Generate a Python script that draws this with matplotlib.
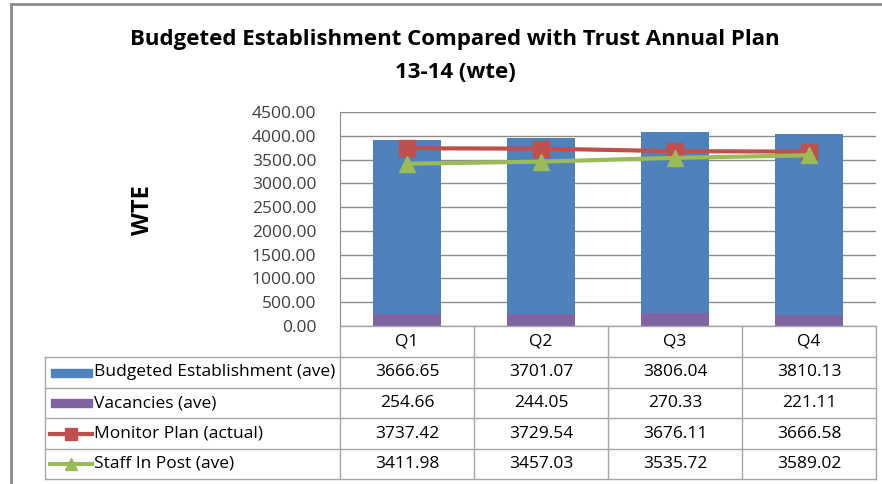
import matplotlib.pyplot as plt
from matplotlib.lines import Line2D
from matplotlib.patches import Rectangle
import numpy as np

quarters = ["Q1", "Q2", "Q3", "Q4"]
budgeted = [3666.65, 3701.07, 3806.04, 3810.13]
vacancies = [254.66, 244.05, 270.33, 221.11]
monitor_plan = [3737.42, 3729.54, 3676.11, 3666.58]
staff_in_post = [3411.98, 3457.03, 3535.72, 3589.02]

series_names = ["Budgeted Establishment (ave)", "Vacancies (ave)",
                "Monitor Plan (actual)", "Staff In Post (ave)"]
yticks = [0, 500, 1000, 1500, 2000, 2500, 3000, 3500, 4000, 4500]

BLUE = "#4F81BD"
PURPLE = "#8064A2"
RED = "#C0504D"
GREEN = "#9BBB59"
GRID = "#8C8C8C"
TBL = "#A6A6A6"

W, H = 882, 484
plt.rcParams['font.family'] = ['Open Sans', 'DejaVu Sans']
FS = 12.5


def fx(x):
    return x / W


def fy(y):
    return 1 - y / H


fig = plt.figure(figsize=(W / 100, H / 100), dpi=100)

# plot area in pixels
left, right, top, bottom = 340, 876, 112, 326
ax = fig.add_axes([fx(left), fy(bottom), fx(right) - fx(left), fy(top) - fy(bottom)])

x = np.arange(len(quarters))
ax.bar(x, vacancies, width=0.51, color=PURPLE, zorder=2)
ax.bar(x, budgeted, width=0.51, bottom=vacancies, color=BLUE, zorder=2)
ax.plot(x, monitor_plan, color=RED, lw=3, marker="s", ms=11, zorder=3)
ax.plot(x, staff_in_post, color=GREEN, lw=3, marker="^", ms=12, zorder=4)

ax.set_xlim(-0.5, len(quarters) - 0.5)
ax.set_ylim(0, 4500)
ax.set_yticks(yticks)
ax.set_yticklabels(["%.2f" % v for v in yticks], fontsize=FS, color="#404040")
ax.tick_params(axis="y", length=0, pad=17)
ax.set_xticks([])
ax.grid(axis="y", color=GRID, lw=1, zorder=0)
for s in ["top", "right", "bottom"]:
    ax.spines[s].set_visible(False)
ax.spines["left"].set_color(GRID)

fig.text(fx(143), fy(210), "WTE", rotation=90, fontsize=17, fontweight="bold",
         ha="center", va="center")
fig.text(fx(455), fy(40), "Budgeted Establishment Compared with Trust Annual Plan",
         fontsize=16, fontweight="bold", ha="center", va="center")
fig.text(fx(455), fy(72), "13-14 (wte)", fontsize=16, fontweight="bold",
         ha="center", va="center")

# data table
col_edges = [340, 474, 608, 742, 876]
row_edges = [326, 357, 388, 418, 449, 479]
tbl_left = 45


def hline(x0, x1, y):
    fig.add_artist(Line2D([fx(x0), fx(x1)], [fy(y), fy(y)], color=TBL, lw=1))


def vline(x, y0, y1):
    fig.add_artist(Line2D([fx(x), fx(x)], [fy(y0), fy(y1)], color=TBL, lw=1))


hline(left, right, row_edges[0])
for y in row_edges[1:]:
    hline(tbl_left, right, y)
for xe in col_edges:
    vline(xe, row_edges[0], row_edges[-1])
vline(tbl_left, row_edges[1], row_edges[-1])

for i, q in enumerate(quarters):
    cx = (col_edges[i] + col_edges[i + 1]) / 2
    fig.text(fx(cx), fy((row_edges[0] + row_edges[1]) / 2), q, fontsize=FS,
             ha="center", va="center")

values = [budgeted, vacancies, monitor_plan, staff_in_post]
for r, (name, vals) in enumerate(zip(series_names, values)):
    cy = (row_edges[r + 1] + row_edges[r + 2]) / 2
    fig.text(fx(94), fy(cy), name, fontsize=FS, ha="left", va="center")
    for i, v in enumerate(vals):
        cx = (col_edges[i] + col_edges[i + 1]) / 2
        fig.text(fx(cx), fy(cy), "%.2f" % v, fontsize=FS, ha="center", va="center")

# legend keys
key_y = [(row_edges[k] + row_edges[k + 1]) / 2 for k in range(1, 5)]
for yk, col in zip(key_y[:2], [BLUE, PURPLE]):
    fig.add_artist(Rectangle((fx(51), fy(yk + 4)), fx(92) - fx(51), 8 / H,
                             color=col, transform=fig.transFigure))
fig.add_artist(Line2D([fx(50), fx(92)], [fy(key_y[2])] * 2, color=RED, lw=3))
fig.add_artist(Line2D([fx(71)], [fy(key_y[2])], color=RED, marker="s", ms=8))
fig.add_artist(Line2D([fx(50), fx(92)], [fy(key_y[3])] * 2, color=GREEN, lw=3))
fig.add_artist(Line2D([fx(71)], [fy(key_y[3])], color=GREEN, marker="^", ms=9))

# outer chart frame
fig.add_artist(Line2D([fx(11), fx(882)], [fy(4), fy(4)], color="#8C8C8C", lw=2))
fig.add_artist(Line2D([fx(11), fx(11)], [fy(4), fy(484)], color="#8C8C8C", lw=2))

fig.savefig("out.png", dpi=100)
